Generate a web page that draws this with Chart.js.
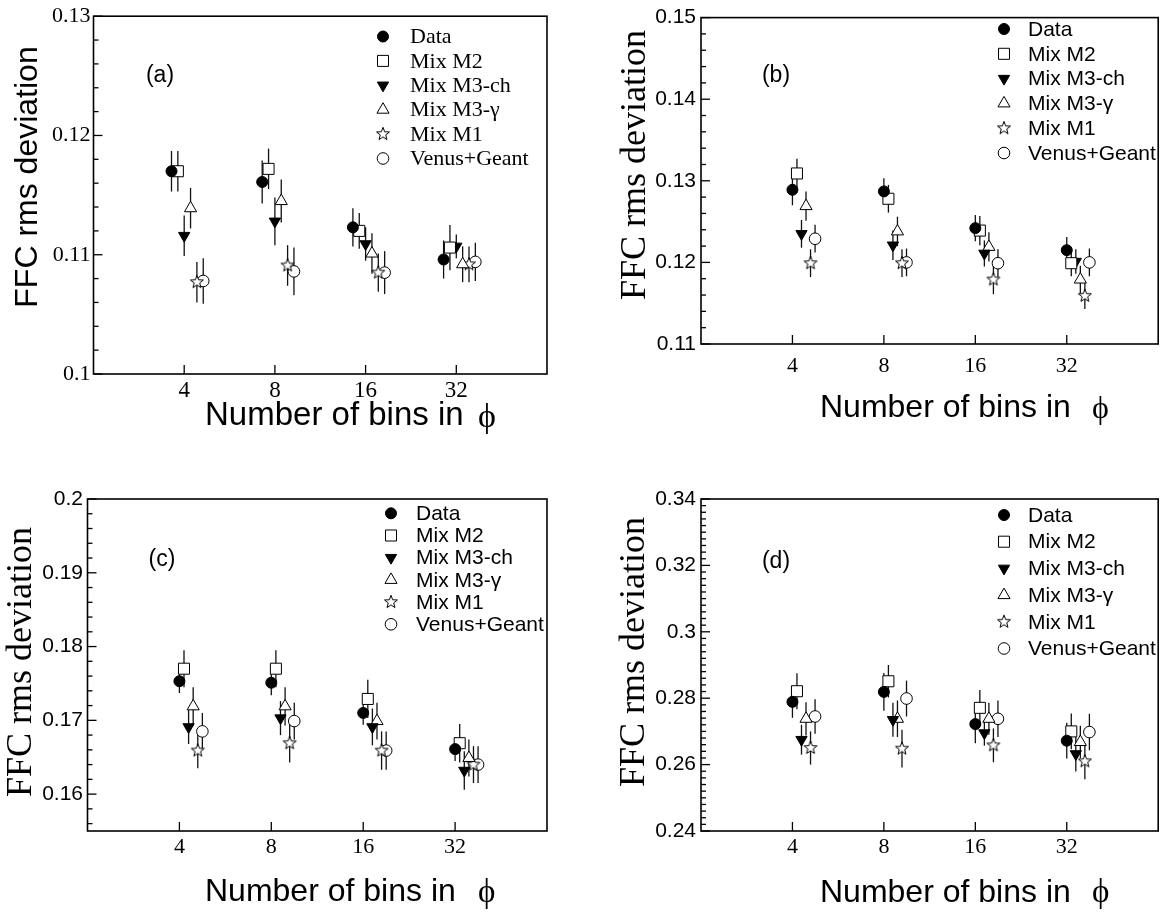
<!DOCTYPE html>
<html>
<head>
<meta charset="utf-8">
<script src="https://cdn.jsdelivr.net/npm/chart.js@4.4.1/dist/chart.umd.min.js"></script>
<style>
  body { margin: 0; background: #fff; }
  #page { position: relative; width: 1167px; height: 916px; overflow: hidden; }
  canvas { position: absolute; }
</style>
</head>
<body>
<div id="page">
  <canvas id="pa" width="583" height="456" style="left:0;top:0"></canvas>
  <canvas id="pb" width="584" height="456" style="left:583px;top:0"></canvas>
  <canvas id="pc" width="583" height="460" style="left:0;top:456px"></canvas>
  <canvas id="pd" width="584" height="460" style="left:583px;top:456px"></canvas>
</div>
<script>
// x categories: number of bins in phi
const bins = [4, 8, 16, 32];
const seriesNames = ["Data", "Mix M2", "Mix M3-ch", "Mix M3-\u03b3", "Mix M1", "Venus+Geant"];

// rows follow seriesNames, columns follow bins
const valuesA = [
  [0.1170, 0.1161, 0.1123, 0.1096],
  [0.1170, 0.1172, 0.1120, 0.1106],
  [0.1116, 0.1128, 0.1109, 0.1107],
  [0.1139, 0.1145, 0.1101, 0.1092],
  [0.1077, 0.1091, 0.1085, 0.1092],
  [0.1078, 0.1086, 0.1085, 0.1094],
];
const errorsA = [
  [0.0017, 0.0018, 0.0016, 0.0016],
  [0.0017, 0.0017, 0.0015, 0.0019],
  [0.0017, 0.0020, 0.0014, 0.0010],
  [0.0017, 0.0018, 0.0017, 0.0015],
  [0.0017, 0.0017, 0.0016, 0.0015],
  [0.0019, 0.0020, 0.0018, 0.0016],
];

const valuesB = [
  [0.1289, 0.1287, 0.1242, 0.1215],
  [0.1309, 0.1278, 0.1239, 0.1199],
  [0.1235, 0.1221, 0.1211, 0.1201],
  [0.1269, 0.1238, 0.1219, 0.1179],
  [0.1199, 0.1199, 0.1179, 0.1159],
  [0.1229, 0.1200, 0.1199, 0.1200],
];
const errorsB = [
  [0.0019, 0.0016, 0.0016, 0.0016],
  [0.0018, 0.0017, 0.0018, 0.0016],
  [0.0017, 0.0018, 0.0016, 0.0015],
  [0.0018, 0.0018, 0.0018, 0.0017],
  [0.0017, 0.0017, 0.0018, 0.0016],
  [0.0017, 0.0017, 0.0017, 0.0017],
];

const valuesC = [
  [0.1753, 0.1751, 0.1710, 0.1661],
  [0.1770, 0.1770, 0.1729, 0.1669],
  [0.1691, 0.1703, 0.1691, 0.1632],
  [0.1719, 0.1719, 0.1699, 0.1649],
  [0.1659, 0.1669, 0.1659, 0.1640],
  [0.1685, 0.1699, 0.1659, 0.1640],
];
const errorsC = [
  [0.0016, 0.0017, 0.0016, 0.0016],
  [0.0025, 0.0025, 0.0026, 0.0026],
  [0.0023, 0.0023, 0.0025, 0.0026],
  [0.0026, 0.0026, 0.0025, 0.0025],
  [0.0024, 0.0026, 0.0026, 0.0025],
  [0.0025, 0.0025, 0.0026, 0.0025],
];

const valuesD = [
  [0.2789, 0.2819, 0.2722, 0.2672],
  [0.2821, 0.2851, 0.2771, 0.2700],
  [0.2675, 0.2735, 0.2695, 0.2632],
  [0.2738, 0.2738, 0.2738, 0.2668],
  [0.2650, 0.2648, 0.2658, 0.2610],
  [0.2745, 0.2799, 0.2738, 0.2698],
];
const errorsD = [
  [0.0048, 0.0057, 0.0058, 0.0054],
  [0.0054, 0.0049, 0.0054, 0.0054],
  [0.0045, 0.0051, 0.0038, 0.0053],
  [0.0050, 0.0055, 0.0048, 0.0049],
  [0.0050, 0.0057, 0.0051, 0.0054],
  [0.0052, 0.0054, 0.0055, 0.0055],
];

const SERIF = "'Liberation Serif', 'Times New Roman', serif";
const SANS = "'Liberation Sans', Arial, sans-serif";
const PHI = "\u03d5";

// five point open star, used as a point style
function makeStar(r) {
  const c = document.createElement("canvas");
  const s = Math.ceil(r * 2 + 4);
  c.width = c.height = s;
  const g = c.getContext("2d");
  g.beginPath();
  for (let i = 0; i < 10; i++) {
    const rr = i % 2 ? r * 0.42 : r;
    const a = -Math.PI / 2 + (i * Math.PI) / 5;
    g.lineTo(s / 2 + rr * Math.cos(a), s / 2 + rr * Math.sin(a));
  }
  g.closePath();
  g.fillStyle = "#fff";
  g.fill();
  g.lineWidth = 1;
  g.strokeStyle = "#000";
  g.stroke();
  return c;
}
const star = makeStar(6.8);

// marker look for each series
const markers = [
  { pointStyle: "circle", rotation: 0, radius: 5.5, fill: "#000" },
  { pointStyle: "rect", rotation: 0, radius: 7.8, fill: "#fff" },
  { pointStyle: "triangle", rotation: 180, radius: 6.5, fill: "#000" },
  { pointStyle: "triangle", rotation: 0, radius: 7, fill: "#fff" },
  { pointStyle: star, rotation: 0, radius: 7, fill: "#fff" },
  { pointStyle: "circle", rotation: 0, radius: 5.8, fill: "#fff" },
];

const errorBars = {
  id: "errorBars",
  beforeDatasetsDraw(chart) {
    const { ctx } = chart;
    const x = chart.scales.x, y = chart.scales.y;
    ctx.save();
    ctx.strokeStyle = "#111";
    ctx.lineWidth = 1.3;
    chart.data.datasets.forEach((ds) => {
      ds.data.forEach((p) => {
        const px = x.getPixelForValue(p.x);
        ctx.beginPath();
        ctx.moveTo(px, y.getPixelForValue(p.y - p.err));
        ctx.lineTo(px, y.getPixelForValue(p.y + p.err));
        ctx.stroke();
      });
    });
    ctx.restore();
  },
};

// box round the plot, ticks pointing inwards
const frame = {
  id: "frame",
  afterDatasetsDraw(chart, args, opts) {
    const { ctx, chartArea: a } = chart;
    const x = chart.scales.x, y = chart.scales.y;
    ctx.save();
    ctx.strokeStyle = "#000";
    ctx.lineWidth = 1.3;
    y.ticks.forEach((t) => {
      const py = y.getPixelForValue(t.value);
      const len = isMajor(t.value, opts.major) ? 9 : 5;
      ctx.beginPath();
      ctx.moveTo(a.left, py);
      ctx.lineTo(a.left + len, py);
      ctx.stroke();
    });
    x.ticks.forEach((t) => {
      const px = x.getPixelForValue(t.value);
      ctx.beginPath();
      ctx.moveTo(px, a.bottom);
      ctx.lineTo(px, a.bottom - 9);
      ctx.stroke();
    });
    ctx.lineWidth = 1.6;
    ctx.strokeRect(a.left, a.top, a.right - a.left, a.bottom - a.top);
    ctx.restore();
  },
};

const boxLegend = {
  id: "boxLegend",
  afterDraw(chart, args, opts) {
    const { ctx } = chart;
    ctx.save();
    ctx.font = opts.font;
    ctx.textBaseline = "middle";
    ctx.textAlign = "left";
    chart.data.datasets.forEach((ds, i) => {
      const yy = opts.y0 + i * opts.dy;
      ctx.fillStyle = ds.backgroundColor;
      ctx.strokeStyle = "#000";
      ctx.lineWidth = 1;
      Chart.helpers.drawPoint(ctx, {
        pointStyle: ds.pointStyle,
        rotation: ds.pointRotation,
        radius: ds.pointRadius,
        borderWidth: 1,
      }, opts.x, yy);
      ctx.fillStyle = "#000";
      ctx.fillText(ds.label, opts.textX, yy + 1);
    });
    ctx.restore();
  },
};

const panelText = {
  id: "panelText",
  afterDraw(chart, args, opts) {
    const { ctx } = chart;
    opts.items.forEach((it) => {
      ctx.save();
      ctx.font = it.font;
      ctx.fillStyle = "#000";
      ctx.textAlign = it.align || "left";
      ctx.textBaseline = it.baseline || "alphabetic";
      ctx.translate(it.x, it.y);
      if (it.rot) ctx.rotate(it.rot);
      ctx.fillText(it.text, 0, 0);
      ctx.restore();
    });
  },
};

function isMajor(v, major) {
  const q = v / major;
  return Math.abs(q - Math.round(q)) < 1e-6;
}

function minorTicks(min, max, step) {
  const out = [];
  const first = Math.ceil(min / step - 1e-6);
  const last = Math.floor(max / step + 1e-6);
  for (let k = first; k <= last; k++) out.push({ value: Math.round(k * step * 1e6) / 1e6 });
  return out;
}

function makePanel(p) {
  const datasets = seriesNames.map((name, i) => ({
    label: name,
    data: bins.map((b, j) => ({
      x: b * Math.pow(2, p.shift0 + i * p.shift),
      y: p.values[i][j],
      err: p.errors[i][j],
    })),
    showLine: false,
    pointStyle: markers[i].pointStyle,
    pointRotation: markers[i].rotation,
    pointRadius: markers[i].radius,
    pointHoverRadius: markers[i].radius,
    backgroundColor: markers[i].fill,
    borderColor: "#000",
    borderWidth: 1,
    pointBorderWidth: 1,
  }));

  new Chart(document.getElementById(p.id), {
    type: "scatter",
    data: { datasets },
    options: {
      responsive: false,
      animation: false,
      devicePixelRatio: 1,
      layout: { padding: { left: 0, top: p.box.top, right: p.w - p.box.right, bottom: 0 } },
      scales: {
        x: {
          type: "logarithmic",
          min: 2,
          max: 64,
          afterBuildTicks: (s) => { s.ticks = bins.map((v) => ({ value: v })); },
          afterFit: (s) => { s.height = p.h - p.box.bottom; },
          grid: { display: false, drawTicks: false },
          border: { display: false },
          ticks: {
            autoSkip: false,
            maxRotation: 0,
            padding: p.xPad,
            color: "#000",
            font: { family: SERIF, size: p.xFontSize },
            callback: (v) => String(v),
          },
        },
        y: {
          type: "linear",
          min: p.yMin,
          max: p.yMax,
          afterBuildTicks: (s) => { s.ticks = minorTicks(p.yMin, p.yMax, 0.002); },
          afterFit: (s) => { s.width = p.box.left; },
          grid: { display: false, drawTicks: false },
          border: { display: false },
          ticks: {
            autoSkip: false,
            padding: p.yPad,
            color: "#000",
            font: { family: p.yFont, size: p.yFontSize },
            callback: (v) => (isMajor(v, p.major) ? String(Math.round(v * 1000) / 1000) : ""),
          },
        },
      },
      plugins: {
        legend: { display: false },
        tooltip: { enabled: false },
        frame: { major: p.major },
        boxLegend: p.legend,
        panelText: { items: p.texts },
      },
    },
    plugins: [errorBars, frame, boxLegend, panelText],
  });
}

makePanel({
  id: "pa", w: 583, h: 456,
  box: { left: 93.5, top: 12, right: 547, bottom: 374 },
  yMin: 0.10, yMax: 0.13, major: 0.01,
  yFont: SERIF, yFontSize: 22, yPad: 3, xPad: 3, xFontSize: 23,
  values: valuesA, errors: errorsA, shift0: -0.14, shift: 0.07,
  legend: { x: 383, textX: 410, y0: 36.5, dy: 24.4, font: "22px " + SERIF },
  texts: [
    { text: "FFC rms deviation", x: 37, y: 177, rot: -Math.PI / 2, align: "center", font: "32px " + SANS },
    { text: "Number of bins in", x: 205, y: 425, font: "33px " + SANS },
    { text: PHI, x: 478, y: 427, font: "34px " + SERIF },
    { text: "(a)", x: 160, y: 76, align: "center", baseline: "middle", font: "23px " + SANS },
  ],
});

makePanel({
  id: "pb", w: 584, h: 456,
  box: { left: 118, top: 12, right: 577, bottom: 344 },
  yMin: 0.11, yMax: 0.15, major: 0.01,
  yFont: SANS, yFontSize: 21, yPad: 5, xPad: 9, xFontSize: 22,
  values: valuesB, errors: errorsB, shift0: 0, shift: 0.0495,
  legend: { x: 421, textX: 445, y0: 29, dy: 24.8, font: "21px " + SANS },
  texts: [
    { text: "FFC rms deviation", x: 62, y: 165, rot: -Math.PI / 2, align: "center", font: "36px " + SERIF },
    { text: "Number of bins in", x: 237, y: 417, font: "32px " + SANS },
    { text: PHI, x: 509, y: 418, font: "32px " + SERIF },
    { text: "(b)", x: 193, y: 76, align: "center", baseline: "middle", font: "23px " + SANS },
  ],
});

makePanel({
  id: "pc", w: 583, h: 460,
  box: { left: 87.5, top: 43, right: 547, bottom: 375 },
  yMin: 0.155, yMax: 0.20, major: 0.01,
  yFont: SANS, yFontSize: 21, yPad: 4.5, xPad: 3, xFontSize: 22,
  values: valuesC, errors: errorsC, shift0: 0, shift: 0.05,
  legend: { x: 391, textX: 416, y0: 57.3, dy: 22.2, font: "21px " + SANS },
  texts: [
    { text: "FFC rms deviation", x: 31, y: 206, rot: -Math.PI / 2, align: "center", font: "36px " + SERIF },
    { text: "Number of bins in", x: 205, y: 445, font: "32px " + SANS },
    { text: PHI, x: 478, y: 446, font: "33px " + SERIF },
    { text: "(c)", x: 162, y: 104, align: "center", baseline: "middle", font: "23px " + SANS },
  ],
});

makePanel({
  id: "pd", w: 584, h: 460,
  box: { left: 118, top: 43, right: 577, bottom: 375 },
  yMin: 0.24, yMax: 0.34, major: 0.02,
  yFont: SANS, yFontSize: 21, yPad: 5, xPad: 3, xFontSize: 22,
  values: valuesD, errors: errorsD, shift0: 0, shift: 0.0495,
  legend: { x: 421, textX: 445, y0: 59, dy: 26.7, font: "21px " + SANS },
  texts: [
    { text: "FFC rms deviation", x: 61, y: 196, rot: -Math.PI / 2, align: "center", font: "36px " + SERIF },
    { text: "Number of bins in", x: 237, y: 446, font: "32px " + SANS },
    { text: PHI, x: 509, y: 446, font: "33px " + SERIF },
    { text: "(d)", x: 193, y: 106, align: "center", baseline: "middle", font: "23px " + SANS },
  ],
});
</script>
</body>
</html>
